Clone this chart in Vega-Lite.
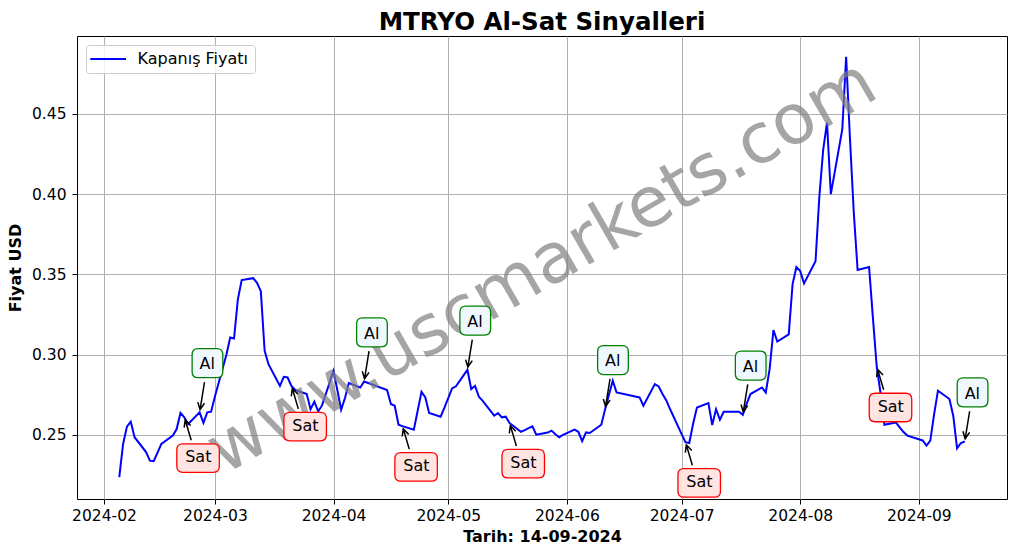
{
  "$schema": "https://vega.github.io/schema/vega-lite/v6.json",
  "width": 930,
  "height": 463,
  "autosize": {"type": "none"},
  "padding": {"left": 77, "top": 36, "right": 10, "bottom": 55},
  "background": "white",
  "title": {"text": "MTRYO Al-Sat Sinyalleri", "font": "DejaVu Sans", "fontSize": 24.5, "fontWeight": "bold", "color": "black", "anchor": "middle", "baseline": "bottom", "offset": 2, "dy": 25},
  "config": {
    "view": {"stroke": "black", "strokeWidth": 1},
    "axis": {"labelFont": "DejaVu Sans", "labelFontSize": 15.5, "labelColor": "black", "titleFont": "DejaVu Sans", "titleFontSize": 16, "titleFontWeight": "bold", "titleColor": "black", "tickColor": "black", "tickSize": 5, "tickWidth": 1, "domain": false, "gridColor": "#b0b0b0", "gridWidth": 1, "gridOpacity": 1}
  },
  "datasets": {
    "prices": [
      {"date": "2024-02-05", "close": 0.2237}, {"date": "2024-02-06", "close": 0.2444}, {"date": "2024-02-07", "close": 0.2552}, {"date": "2024-02-08", "close": 0.2583}, {"date": "2024-02-09", "close": 0.2486},
      {"date": "2024-02-12", "close": 0.2393}, {"date": "2024-02-13", "close": 0.2340}, {"date": "2024-02-14", "close": 0.2337}, {"date": "2024-02-15", "close": 0.2390}, {"date": "2024-02-16", "close": 0.2444},
      {"date": "2024-02-19", "close": 0.2496}, {"date": "2024-02-20", "close": 0.2537}, {"date": "2024-02-21", "close": 0.2637}, {"date": "2024-02-22", "close": 0.2610}, {"date": "2024-02-23", "close": 0.2568},
      {"date": "2024-02-26", "close": 0.2641}, {"date": "2024-02-27", "close": 0.2575}, {"date": "2024-02-28", "close": 0.2641}, {"date": "2024-02-29", "close": 0.2645}, {"date": "2024-03-01", "close": 0.2740},
      {"date": "2024-03-04", "close": 0.3000}, {"date": "2024-03-05", "close": 0.3107}, {"date": "2024-03-06", "close": 0.3101}, {"date": "2024-03-07", "close": 0.3345}, {"date": "2024-03-08", "close": 0.3465},
      {"date": "2024-03-11", "close": 0.3477}, {"date": "2024-03-12", "close": 0.3448}, {"date": "2024-03-13", "close": 0.3396}, {"date": "2024-03-14", "close": 0.3024}, {"date": "2024-03-15", "close": 0.2941},
      {"date": "2024-03-18", "close": 0.2806}, {"date": "2024-03-19", "close": 0.2862}, {"date": "2024-03-20", "close": 0.2858}, {"date": "2024-03-21", "close": 0.2806}, {"date": "2024-03-22", "close": 0.2780},
      {"date": "2024-03-25", "close": 0.2755}, {"date": "2024-03-26", "close": 0.2661}, {"date": "2024-03-27", "close": 0.2707}, {"date": "2024-03-28", "close": 0.2647}, {"date": "2024-03-29", "close": 0.2684},
      {"date": "2024-04-01", "close": 0.2899}, {"date": "2024-04-02", "close": 0.2780}, {"date": "2024-04-03", "close": 0.2657}, {"date": "2024-04-04", "close": 0.2730}, {"date": "2024-04-05", "close": 0.2823},
      {"date": "2024-04-08", "close": 0.2796}, {"date": "2024-04-09", "close": 0.2833}, {"date": "2024-04-15", "close": 0.2780}, {"date": "2024-04-16", "close": 0.2693}, {"date": "2024-04-17", "close": 0.2682},
      {"date": "2024-04-18", "close": 0.2564}, {"date": "2024-04-19", "close": 0.2555}, {"date": "2024-04-22", "close": 0.2533}, {"date": "2024-04-24", "close": 0.2769}, {"date": "2024-04-25", "close": 0.2734},
      {"date": "2024-04-26", "close": 0.2637}, {"date": "2024-04-29", "close": 0.2614}, {"date": "2024-04-30", "close": 0.2670}, {"date": "2024-05-02", "close": 0.2790}, {"date": "2024-05-03", "close": 0.2803},
      {"date": "2024-05-06", "close": 0.2906}, {"date": "2024-05-07", "close": 0.2786}, {"date": "2024-05-08", "close": 0.2806}, {"date": "2024-05-09", "close": 0.2738}, {"date": "2024-05-10", "close": 0.2713},
      {"date": "2024-05-13", "close": 0.2620}, {"date": "2024-05-14", "close": 0.2637}, {"date": "2024-05-15", "close": 0.2610}, {"date": "2024-05-16", "close": 0.2614}, {"date": "2024-05-17", "close": 0.2575},
      {"date": "2024-05-20", "close": 0.2520}, {"date": "2024-05-21", "close": 0.2530}, {"date": "2024-05-22", "close": 0.2542}, {"date": "2024-05-23", "close": 0.2554}, {"date": "2024-05-24", "close": 0.2502},
      {"date": "2024-05-27", "close": 0.2515}, {"date": "2024-05-28", "close": 0.2527}, {"date": "2024-05-29", "close": 0.2505}, {"date": "2024-05-30", "close": 0.2486}, {"date": "2024-05-31", "close": 0.2500},
      {"date": "2024-06-03", "close": 0.2533}, {"date": "2024-06-04", "close": 0.2520}, {"date": "2024-06-05", "close": 0.2461}, {"date": "2024-06-06", "close": 0.2516}, {"date": "2024-06-07", "close": 0.2512},
      {"date": "2024-06-10", "close": 0.2564}, {"date": "2024-06-11", "close": 0.2660}, {"date": "2024-06-12", "close": 0.2750}, {"date": "2024-06-13", "close": 0.2838}, {"date": "2024-06-14", "close": 0.2765},
      {"date": "2024-06-20", "close": 0.2734}, {"date": "2024-06-21", "close": 0.2682}, {"date": "2024-06-24", "close": 0.2817}, {"date": "2024-06-25", "close": 0.2802}, {"date": "2024-06-26", "close": 0.2755},
      {"date": "2024-06-27", "close": 0.2715}, {"date": "2024-06-28", "close": 0.2660}, {"date": "2024-07-01", "close": 0.2505}, {"date": "2024-07-02", "close": 0.2455}, {"date": "2024-07-03", "close": 0.2450},
      {"date": "2024-07-04", "close": 0.2570}, {"date": "2024-07-05", "close": 0.2671}, {"date": "2024-07-08", "close": 0.2699}, {"date": "2024-07-09", "close": 0.2562}, {"date": "2024-07-10", "close": 0.2661},
      {"date": "2024-07-11", "close": 0.2595}, {"date": "2024-07-12", "close": 0.2645}, {"date": "2024-07-16", "close": 0.2645}, {"date": "2024-07-17", "close": 0.2626}, {"date": "2024-07-18", "close": 0.2695},
      {"date": "2024-07-19", "close": 0.2755}, {"date": "2024-07-22", "close": 0.2796}, {"date": "2024-07-23", "close": 0.2765}, {"date": "2024-07-24", "close": 0.2910}, {"date": "2024-07-25", "close": 0.3154},
      {"date": "2024-07-26", "close": 0.3082}, {"date": "2024-07-29", "close": 0.3127}, {"date": "2024-07-30", "close": 0.3440}, {"date": "2024-07-31", "close": 0.3546}, {"date": "2024-08-01", "close": 0.3521},
      {"date": "2024-08-02", "close": 0.3444}, {"date": "2024-08-05", "close": 0.3583}, {"date": "2024-08-06", "close": 0.3986}, {"date": "2024-08-07", "close": 0.4276}, {"date": "2024-08-08", "close": 0.4446},
      {"date": "2024-08-09", "close": 0.4001}, {"date": "2024-08-12", "close": 0.4405}, {"date": "2024-08-13", "close": 0.4856}, {"date": "2024-08-14", "close": 0.4347}, {"date": "2024-08-15", "close": 0.3886},
      {"date": "2024-08-16", "close": 0.3528}, {"date": "2024-08-19", "close": 0.3546}, {"date": "2024-08-20", "close": 0.3230}, {"date": "2024-08-21", "close": 0.2925}, {"date": "2024-08-22", "close": 0.2760},
      {"date": "2024-08-23", "close": 0.2564}, {"date": "2024-08-26", "close": 0.2578}, {"date": "2024-08-27", "close": 0.2548}, {"date": "2024-08-28", "close": 0.2518}, {"date": "2024-08-29", "close": 0.2496},
      {"date": "2024-09-02", "close": 0.2466}, {"date": "2024-09-03", "close": 0.2434}, {"date": "2024-09-04", "close": 0.2465}, {"date": "2024-09-05", "close": 0.2630}, {"date": "2024-09-06", "close": 0.2776},
      {"date": "2024-09-09", "close": 0.2724}, {"date": "2024-09-10", "close": 0.2620}, {"date": "2024-09-11", "close": 0.2417}, {"date": "2024-09-12", "close": 0.2450}, {"date": "2024-09-13", "close": 0.2459}
    ],
    "signals": [
      {"date": "2024-02-22", "close": 0.2610, "signal": "Sat"},
      {"date": "2024-02-26", "close": 0.2641, "signal": "Al"},
      {"date": "2024-03-21", "close": 0.2806, "signal": "Sat"},
      {"date": "2024-04-09", "close": 0.2833, "signal": "Al"},
      {"date": "2024-04-19", "close": 0.2555, "signal": "Sat"},
      {"date": "2024-05-06", "close": 0.2906, "signal": "Al"},
      {"date": "2024-05-17", "close": 0.2575, "signal": "Sat"},
      {"date": "2024-06-11", "close": 0.2660, "signal": "Al"},
      {"date": "2024-07-02", "close": 0.2455, "signal": "Sat"},
      {"date": "2024-07-17", "close": 0.2626, "signal": "Al"},
      {"date": "2024-08-21", "close": 0.2925, "signal": "Sat"},
      {"date": "2024-09-13", "close": 0.2459, "signal": "Al"}
    ]
  },
  "layer": [
    {
      "data": {"name": "prices"},
      "mark": {"type": "line", "strokeWidth": 2},
      "encoding": {
        "x": {
          "field": "date", "type": "temporal",
          "scale": {"type": "utc", "domain": [{"year": 2024, "month": 1, "date": 24, "hours": 22, "minutes": 48, "utc": true}, {"year": 2024, "month": 9, "date": 24, "hours": 1, "minutes": 12, "utc": true}]},
          "axis": {
            "title": "Tarih: 14-09-2024", "labelExpr": "utcFormat(datum.value, '%Y-%m')",
            "values": [
              {"year": 2024, "month": 2, "date": 1, "utc": true}, {"year": 2024, "month": 3, "date": 1, "utc": true},
              {"year": 2024, "month": 4, "date": 1, "utc": true}, {"year": 2024, "month": 5, "date": 1, "utc": true},
              {"year": 2024, "month": 6, "date": 1, "utc": true}, {"year": 2024, "month": 7, "date": 1, "utc": true},
              {"year": 2024, "month": 8, "date": 1, "utc": true}, {"year": 2024, "month": 9, "date": 1, "utc": true}
            ],
            "labelPadding": 4, "titlePadding": 5, "labelFlush": false, "labelOverlap": false, "grid": true
          }
        },
        "y": {
          "field": "close", "type": "quantitative",
          "scale": {"domain": [0.2101, 0.4986], "nice": false, "zero": false},
          "axis": {"title": "Fiyat USD", "values": [0.25, 0.3, 0.35, 0.4, 0.45], "format": ".2f", "labelPadding": 6, "titlePadding": 8, "grid": true}
        },
        "color": {
          "datum": "Kapanış Fiyatı", "type": "nominal",
          "scale": {"range": ["#0000ff"]},
          "legend": {
            "title": null, "orient": "top-left", "offset": 8.5, "padding": 6,
            "symbolType": "M-1.94,0L5.2,0", "symbolSize": 100, "symbolStrokeWidth": 2,
            "labelFont": "DejaVu Sans", "labelFontSize": 16, "labelColor": "black", "labelOffset": 29.6,
            "strokeColor": "#cccccc", "fillColor": "rgba(255,255,255,0.8)", "cornerRadius": 3
          }
        }
      }
    },
    {
      "data": {"values": [{}]},
      "mark": {"type": "text", "text": "www.uscmarkets.com", "font": "DejaVu Sans", "fontSize": 69.5, "angle": -30, "align": "center", "baseline": "middle", "fill": "#808080", "opacity": 0.7},
      "encoding": {
        "x": {"datum": {"year": 2024, "month": 5, "date": 25, "hours": 12, "utc": true}, "type": "temporal"},
        "y": {"datum": 0.35435, "type": "quantitative"}
      }
    },
    {
      "data": {"name": "signals"},
      "transform": [{"filter": "datum.signal === 'Al'"}],
      "encoding": {
        "x": {"field": "date", "type": "temporal"},
        "y": {"field": "close", "type": "quantitative"}
      },
      "layer": [
        {"mark": {"type": "point", "shape": "M4.9,-30.3L0.44,-2.76M4.91,-9.13L0.44,-2.76L-1.81,-10.21", "size": 4, "filled": false, "stroke": "black", "strokeWidth": 1.5, "opacity": 1}},
        {"mark": {"type": "point", "shape": "M-1.5,-63.7L17.2,-63.7Q23.2,-63.7 23.2,-57.7L23.2,-40.7Q23.2,-34.7 17.2,-34.7L-1.5,-34.7Q-7.5,-34.7 -7.5,-40.7L-7.5,-57.7Q-7.5,-63.7 -1.5,-63.7Z", "size": 4, "filled": true, "fill": "#f0f8ff", "stroke": "#008000", "strokeWidth": 1.3, "opacity": 1}},
        {"mark": {"type": "text", "font": "DejaVu Sans", "fontSize": 16, "color": "black", "align": "center", "baseline": "middle", "dx": 7.6, "dy": -48}, "encoding": {"text": {"field": "signal"}}}
      ]
    },
    {
      "data": {"name": "signals"},
      "transform": [{"filter": "datum.signal === 'Sat'"}],
      "encoding": {
        "x": {"field": "date", "type": "temporal"},
        "y": {"field": "close", "type": "quantitative"}
      },
      "layer": [
        {"mark": {"type": "point", "shape": "M6.9,23L0.88,2.66M6.31,8.23L0.88,2.66L-0.15,10.37", "size": 4, "filled": false, "stroke": "black", "strokeWidth": 1.5, "opacity": 1}},
        {"mark": {"type": "point", "shape": "M-1.5,26.5L29,26.5Q35,26.5 35,32.5L35,49Q35,55 29,55L-1.5,55Q-7.5,55 -7.5,49L-7.5,32.5Q-7.5,26.5 -1.5,26.5Z", "size": 4, "filled": true, "fill": "#ffe4e1", "stroke": "#ff0000", "strokeWidth": 1.3, "opacity": 1}},
        {"mark": {"type": "text", "font": "DejaVu Sans", "fontSize": 16, "color": "black", "align": "center", "baseline": "middle", "dx": 14, "dy": 40}, "encoding": {"text": {"field": "signal"}}}
      ]
    }
  ]
}
